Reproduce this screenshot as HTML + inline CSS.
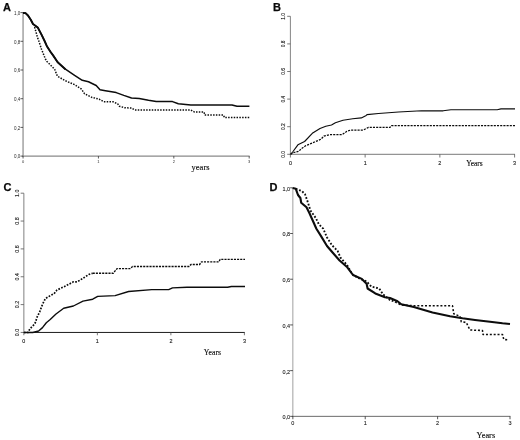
<!DOCTYPE html>
<html><head><meta charset="utf-8"><title>Figure</title>
<style>
html,body{margin:0;padding:0;background:#fff;}
svg{display:block;}
.lbl{font-family:"Liberation Sans",sans-serif;font-weight:bold;font-size:11px;fill:#0a0a0a;stroke:#0a0a0a;stroke-width:0.25px;}
.yr{font-family:"Liberation Serif",serif;fill:#0a0a0a;stroke:#0a0a0a;stroke-width:0.12px;}
.ta{font-family:"Liberation Sans",sans-serif;font-size:4.5px;fill:#2a2a2a;}
.tb{font-family:"Liberation Sans",sans-serif;font-size:5.4px;fill:#1a1a1a;stroke:#1a1a1a;stroke-width:0.12px;}
.td{font-family:"Liberation Sans",sans-serif;font-size:5.5px;fill:#1a1a1a;stroke:#1a1a1a;stroke-width:0.1px;}
.s{fill:none;stroke:#0c0c0c;stroke-linejoin:round;stroke-linecap:butt;}
</style></head><body>
<svg width="520" height="440" viewBox="0 0 520 440">
<rect width="520" height="440" fill="#fff"/>
<g id="pa">
<text class="lbl" x="3.1" y="10.9">A</text>
<g fill="none"><path stroke="#8a8a8a" stroke-width="1.2" d="M23.05 12.6V156.7"/><path stroke="#8a8a8a" stroke-width="1.2" d="M22.45 156.1H249.6"/></g><g fill="none" stroke="#333" stroke-width="0.8"><path d="M20.45 12.6H23.05M20.45 41.3H23.05M20.45 70H23.05M20.45 98.7H23.05M20.45 127.4H23.05M20.45 156.1H23.05"/><path d="M23.05 156.1V158.5M98.43 156.1V158.5M173.82 156.1V158.5M249.2 156.1V158.5"/></g>
<g class="ta" text-anchor="end"><text x="20.3" y="14.9">1,0</text><text x="20.3" y="43.6">0,8</text><text x="20.3" y="72.3">0,6</text><text x="20.3" y="101">0,4</text><text x="20.3" y="129.7">0,2</text><text x="20.3" y="158.4">0,0</text></g>
<g class="ta" style="font-size:4px" text-anchor="middle"><text x="23.05" y="162.8">0</text><text x="98.43" y="162.8">1</text><text x="173.82" y="162.8">2</text><text x="249.2" y="162.8">3</text></g>
<text class="yr" font-size="8.5" x="191.6" y="170">years</text>
<polyline class="s" stroke-width="1.5" points="23,13 25.5,13.1 28,15.5 30.8,19.8 33,24 37.7,27.4 41.5,34.6 44.6,41 46.9,46.2 50.8,52.3 53.1,55.4 57.7,62.3 65.4,69.2 74.6,75.4 82.3,80.3 88.5,81.8 96.2,85.5 100,89.8 105.4,90.8 116.2,92.6 123.8,95.4 131.5,98 139.2,98.5 148.5,100.3 156.2,101.6 172.5,101.6 178.3,103.7 190.8,105 232,105 237,106.3 249.4,106.3"/>
<polyline class="s" stroke-width="1.9" points="23,13 25.5,13.1 28,15.5 30.8,19.8 33,24 37.7,27.4 41.5,34.6 44.6,41 46.9,46.2 50.8,52.3 53.1,55.4 57.7,62.3 65.4,69.2"/>
<polyline class="s" stroke-width="1.5" stroke-dasharray="1.5 1.3" points="34.6,27 37.5,37.5 38.5,40 41.5,49.2 45.4,59 46.9,61.5 54.6,69.2 57.4,76.2 65.4,80.8 74.6,84.6 81.5,89.2 84.6,93.8 91.5,97.2 99.2,99.2 103.8,101.8 113,101.8 117.7,103.8 119.2,106.2 124.6,107.7 131.5,108 134.6,110 190.8,110 194.6,112.1 204.2,112.1 204.6,115 223.5,115 224.4,117.5 249.4,117.5"/>
</g>
<g id="pb">
<text class="lbl" x="273.1" y="11">B</text>
<g fill="none"><path stroke="#777" stroke-width="0.9" d="M290.4 16.3V154.75"/><path stroke="#6a6a6a" stroke-width="0.9" d="M289.95 154.3H515"/></g><g fill="none" stroke="#555" stroke-width="0.8"><path d="M287.2 16.3H290.4M287.2 43.9H290.4M287.2 71.5H290.4M287.2 99.1H290.4M287.2 126.7H290.4M287.2 154.3H290.4"/><path d="M290.4 154.3V157.5M365.13 154.3V157.5M439.87 154.3V157.5M514.6 154.3V157.5"/></g>
<g class="tb" text-anchor="middle"><text transform="translate(284.9 16.3) rotate(-90) scale(0.9 1)">1.0</text><text transform="translate(284.9 43.9) rotate(-90) scale(0.9 1)">0.8</text><text transform="translate(284.9 71.5) rotate(-90) scale(0.9 1)">0.6</text><text transform="translate(284.9 99.1) rotate(-90) scale(0.9 1)">0.4</text><text transform="translate(284.9 126.7) rotate(-90) scale(0.9 1)">0.2</text><text transform="translate(284.9 154.3) rotate(-90) scale(0.9 1)">0.0</text><text x="290.4" y="164.7">0</text><text x="365.13" y="164.7">1</text><text x="439.87" y="164.7">2</text><text x="514.6" y="164.7">3</text></g>
<text class="yr" font-size="7.4" x="466.2" y="166.3">Years</text>
<polyline class="s" stroke-width="1.15" points="290.6,154.3 293,151.5 297.9,144.8 304.6,141.5 312.3,133.3 320,128.5 325.8,126.2 331.5,125 335.4,122.7 343,120.2 352.7,118.8 361.3,117.9 366.2,115.4 367,114.6 378.5,113.5 398.5,112 421.5,110.8 443.2,110.8 450.9,109.7 497.2,109.7 501,108.9 515,108.9"/>
<polyline class="s" stroke-width="1.25" stroke-dasharray="2.1 1.1" points="290.6,154.3 294,152.5 298.8,151.2 301.7,148.4 305.9,145.6 314.6,142 321,139.2 323.8,136.2 329.6,134.6 342.1,134.6 346.9,131.3 350.8,130 363.3,130 368.5,127.4 390,127.4 391.5,125.7 515,125.7"/>
</g>
<g id="pc">
<text class="lbl" x="3.6" y="190.7">C</text>
<g fill="none"><path stroke="#8c8c8c" stroke-width="1.1" d="M23.85 193.2V332.95"/><path stroke="#1c1c1c" stroke-width="1.0" d="M23.3 332.45H244.8"/></g><g fill="none" stroke="#555" stroke-width="0.8"><path d="M20.65 193.2H23.85M20.65 221.05H23.85M20.65 248.9H23.85M20.65 276.75H23.85M20.65 304.6H23.85M20.65 332.45H23.85"/><path d="M23.85 332.45V335.25M97.37 332.45V335.25M170.88 332.45V335.25M244.4 332.45V335.25"/></g>
<g class="tb" text-anchor="middle"><text transform="translate(18.6 193.2) rotate(-90)">1.0</text><text transform="translate(18.6 221.05) rotate(-90)">0.8</text><text transform="translate(18.6 248.9) rotate(-90)">0.6</text><text transform="translate(18.6 276.75) rotate(-90)">0.4</text><text transform="translate(18.6 304.6) rotate(-90)">0.2</text><text transform="translate(18.6 332.45) rotate(-90)">0.0</text><text x="23.85" y="342.9">0</text><text x="97.37" y="342.9">1</text><text x="170.88" y="342.9">2</text><text x="244.4" y="342.9">3</text></g>
<text class="yr" font-size="7.7" x="203.8" y="354.5">Years</text>
<polyline class="s" stroke-width="1.4" points="23.9,332.5 32.8,332.5 38.6,331 42.5,327.6 46.3,322.7 50.2,319.5 56,314 63.7,308.3 73.4,306 83,301.1 92.7,299.2 97.7,296.4 115.1,295.6 128.6,291.5 151.8,289.6 168.7,289.6 172.5,287.9 187,287.3 227.6,287.3 231.4,286.5 245,286.5"/>
<polyline class="s" stroke-width="1.7" stroke-dasharray="1.7 1.4" points="23.9,332.5 28,332.5 29.8,329 32,326.7 34.3,324.4 35.8,321.8 36.7,317.9 39.6,312.1 42.5,304.4 45.4,298.6 50.2,295.7 54,293.8 57,290 65.6,286 73.4,281.8 77.2,281.8 83,278.3 88.8,274.5 92.7,273.2"/>
<polyline class="s" stroke-width="1.35" stroke-dasharray="2.1 1.05" points="92.7,273.2 113.2,273.2 117,268.6 130.5,268.6 132.5,266.5 189,266.5 190.9,264.5 199.6,264.5 201.5,261.8 218.9,261.8 220.2,259.3 245,259.3"/>
</g>
<g id="pd">
<text class="lbl" x="269.5" y="190.7">D</text>
<g fill="none"><path stroke="#a0a0a0" stroke-width="1.0" d="M292.85 187.8V416.8"/><path stroke="#5a5a5a" stroke-width="0.9" d="M292.35 416.35H510.4"/></g><g fill="none" stroke="#2a2a2a" stroke-width="0.8"><path d="M290.15 187.8H292.85M290.15 233.51H292.85M290.15 279.22H292.85M290.15 324.93H292.85M290.15 370.64H292.85M290.15 416.35H292.85"/><path d="M292.85 416.35V419.25M365.23 416.35V419.25M437.62 416.35V419.25M510 416.35V419.25"/></g>
<g class="td" text-anchor="end"><text x="290.1" y="190.7">1,0</text><text x="290.1" y="236.41">0,8</text><text x="290.1" y="282.12">0,6</text><text x="290.1" y="327.83">0,4</text><text x="290.1" y="373.54">0,2</text><text x="290.1" y="419.25">0,0</text></g>
<g class="td" text-anchor="middle"><text x="292.85" y="424.5">0</text><text x="365.23" y="424.5">1</text><text x="437.62" y="424.5">2</text><text x="510" y="424.5">3</text></g>
<text class="yr" font-size="8.3" x="476.6" y="438.3">Years</text>
<polyline class="s" stroke-width="2.1" points="292.7,188 295.8,188.8 298,195 300.4,198 301.2,202.7 306.5,207.3 309.6,213.5 312.5,220 316.4,228.7 321.2,236.4 327,246 332.8,252.8 339.6,260.5 347.3,267.3 353,275 361.8,278.9 366.6,283.7 367.6,288.5 375.3,293.4 385,297.2 390,298 397.5,301.3 401.3,304.3 413.8,307 432.5,312.5 450,316.3 462.5,318.3 475,320 490,321.8 502.5,323.3 510,324"/>
<polyline class="s" stroke-width="1.85" stroke-dasharray="1.8 1.7" points="295.8,188.8 302,191.2 305,194.2 308,202.7 310.4,210.4 315.8,218 318.8,224.2 323.2,228.7 327,237.4 331.9,245.1 337.6,250.9 340.5,257.6 347.3,265.4 352.1,274 357.9,277.9 366.6,281.4 371.4,286.6 379.2,288.5 383,294.3 390,300 395,301.8"/>
<polyline class="s" stroke-width="1.55" stroke-dasharray="2 1.85" points="395,301.8 401.3,305 415,305.8 452.5,305.8 453.8,313.8 460,316.3 461.3,321.8 466.3,322.5 470,330 482.5,330.5 483,334.5 502.5,334.5 503.8,339.5 508.8,340"/>
</g>
</svg>
</body></html>
